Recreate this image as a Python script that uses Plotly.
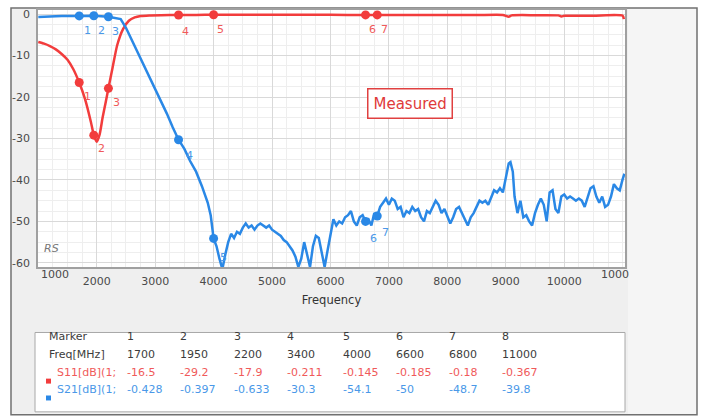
import plotly.graph_objects as go

# ---------------- data ----------------
s11_freq = [1000, 1100, 1200, 1300, 1400, 1500, 1600, 1700, 1800, 1900, 1950, 2000, 2050, 2100,
            2150, 2200, 2270, 2350, 2450, 2550, 2650, 2750, 2900, 3100, 3400, 3700, 4000, 4500,
            5000, 5500, 6000, 6600, 6800, 7200, 7600, 8000, 8500, 8950, 9050, 9100, 9500, 9900,
            9950, 10000, 10100, 10500, 11000, 11020]
s11_db = [-6.7, -7.1, -7.7, -8.5, -9.6, -11.0, -13.3, -16.5, -20.5, -26.0, -29.2, -30.8, -29.0, -25.0,
          -21.5, -17.9, -13.0, -7.5, -3.6, -1.6, -0.8, -0.45, -0.3, -0.25, -0.211, -0.18, -0.145, -0.15,
          -0.17, -0.16, -0.17, -0.185, -0.18, -0.2, -0.18, -0.2, -0.22, -0.2, -0.6, -0.3, -0.25, -0.3,
          -0.55, -0.4, -0.37, -0.37, -0.367, -1.2]

s21_freq = [1000, 1200, 1400, 1700, 1950, 2200, 2300, 2410, 2500, 2600, 2700, 2800, 2900, 3000,
            3100, 3200, 3300, 3400, 3500, 3600, 3700, 3800, 3900, 3950,
            4000, 4050, 4100, 4150, 4200, 4250, 4300, 4350, 4400, 4450, 4500, 4550, 4600, 4650,
            4700, 4750, 4800, 4850, 4900, 4950, 5000, 5050, 5100, 5150, 5200, 5250, 5300, 5350,
            5400, 5450, 5500, 5550, 5600, 5650, 5700, 5750, 5800, 5850, 5900, 5950, 6000, 6050,
            6100, 6150, 6200, 6250, 6300, 6350, 6400, 6450, 6500, 6550, 6600, 6650, 6700, 6750,
            6800, 6850, 6900, 6950, 7000, 7050, 7100, 7150, 7200, 7250, 7300, 7350, 7400, 7450,
            7500, 7550, 7600, 7650, 7700, 7750, 7800, 7850, 7900, 7950, 8000, 8050, 8100, 8150,
            8200, 8250, 8300, 8350, 8400, 8450, 8500, 8550, 8600, 8650, 8700, 8750, 8800, 8850,
            8900, 8950, 9000, 9050, 9080, 9120, 9150, 9200, 9250, 9300, 9350, 9400, 9450, 9500,
            9550, 9600, 9650, 9700, 9750, 9800, 9850, 9900, 9950, 10000, 10050, 10100, 10150,
            10200, 10250, 10300, 10350, 10400, 10450, 10500, 10550, 10600, 10650, 10700, 10750,
            10800, 10850, 10900, 10950, 11000, 11030]
s21_db = [-0.7, -0.5, -0.45, -0.428, -0.397, -0.633, -0.9, -1.2, -3.3, -6.2, -9.2, -12.0, -15.0, -18.0,
          -21.0, -24.0, -27.3, -30.3, -32.5, -35.5, -38.0, -41.5, -45.5, -48.5,
          -54.1, -56.0, -59.0, -61.5, -58.0, -55.0, -53.0, -54.0, -52.5, -53.0, -51.5, -50.5, -51.5, -51.0,
          -52.0, -51.0, -50.5, -51.0, -51.5, -51.0, -52.0, -52.5, -53.0, -53.5, -54.5, -55.0, -56.0, -57.0,
          -58.5, -61.0, -59.0, -55.0, -58.0, -61.0, -56.0, -53.5, -54.0, -58.0, -61.0, -57.0, -53.5, -49.5,
          -51.0, -50.0, -50.5, -49.0, -48.5, -47.5, -50.0, -51.0, -49.0, -48.5, -50.0, -49.5, -51.0, -48.0,
          -48.7, -46.5, -45.5, -44.5, -46.0, -44.5, -45.0, -47.0, -46.5, -49.0, -47.5, -48.0, -46.5, -47.5,
          -47.0, -49.0, -50.0, -47.5, -48.0, -46.5, -45.0, -46.0, -48.0, -47.0, -49.0, -50.5, -49.0, -47.0,
          -46.5, -48.0, -49.5, -51.0, -49.0, -48.0, -46.5, -45.0, -45.5, -45.0, -46.0, -44.0, -42.5, -43.0,
          -42.0, -43.0, -39.0, -36.0, -35.7, -38.0, -44.0, -48.0, -45.0, -49.0, -48.5, -50.0, -51.0, -48.0,
          -46.0, -44.5, -46.0, -50.0, -43.0, -42.5, -47.0, -48.0, -44.0, -43.5, -44.5, -44.0, -44.5,
          -45.0, -44.5, -45.0, -46.5, -44.0, -42.0, -41.5, -44.0, -45.5, -44.0, -46.5, -46.0,
          -44.0, -41.0, -42.0, -42.5, -39.8, -38.5]

marker_ids = ["1", "2", "3", "4", "5", "6", "7", "8"]
marker_freq = [1700, 1950, 2200, 3400, 4000, 6600, 6800, 11000]
marker_s11 = [-16.5, -29.2, -17.9, -0.211, -0.145, -0.185, -0.18, -0.367]
marker_s21 = [-0.428, -0.397, -0.633, -30.3, -54.1, -50, -48.7, -39.8]

x_tick_vals = [2000, 3000, 4000, 5000, 6000, 7000, 8000, 9000, 10000]
x_tick_text = ["2000", "3000", "4000", "5000", "6000", "7000", "8000", "9000", "10000"]
y_tick_vals = [0, -10, -20, -30, -40, -50, -60]
y_tick_text = ["0", "-10", "-20", "-30", "-40", "-50", "-60"]

# ---------------- style ----------------
RED = "#f23c3c"
BLUE = "#2a88e6"
RED_T = "#f05a5a"
BLUE_T = "#4a98e8"
FONT = "DejaVu Sans"
TICK = "#4a4a4a"

L, R, T, B = 38, 625, 8, 267
W, H = R - L, B - T


def px(x):
    return (x - L) / W


def py(y):
    return (B - y) / H


fig = go.Figure()

fig.add_trace(go.Scatter(x=s11_freq, y=s11_db, mode="lines",
                         line=dict(color=RED, width=2.5, shape="spline", smoothing=0.6),
                         showlegend=False, hoverinfo="skip"))
fig.add_trace(go.Scatter(x=s21_freq, y=s21_db, mode="lines",
                         line=dict(color=BLUE, width=2.5),
                         showlegend=False, hoverinfo="skip"))
fig.add_trace(go.Scatter(x=marker_freq[:7], y=marker_s11[:7], mode="markers",
                         marker=dict(color=RED, size=9), showlegend=False, hoverinfo="skip"))
fig.add_trace(go.Scatter(x=marker_freq[:7], y=marker_s21[:7], mode="markers",
                         marker=dict(color=BLUE, size=9), showlegend=False, hoverinfo="skip"))

annotations = []

# marker number labels
s11_offsets = [(8, -14), (8, -13), (8, -14), (7, -16), (7, -15), (7, -15), (7, -15)]
s21_offsets = [(8, -15), (8, -15), (7, -15), (11, -16), (10, -19), (8, -17), (8, -16)]
for i in range(7):
    annotations.append(dict(x=marker_freq[i], y=marker_s11[i], xref="x", yref="y",
                            text=marker_ids[i], showarrow=False,
                            xshift=s11_offsets[i][0], yshift=s11_offsets[i][1],
                            font=dict(family=FONT, size=11, color=RED_T)))
    annotations.append(dict(x=marker_freq[i], y=marker_s21[i], xref="x", yref="y",
                            text=marker_ids[i], showarrow=False,
                            xshift=s21_offsets[i][0], yshift=s21_offsets[i][1],
                            font=dict(family=FONT, size=11, color=BLUE_T)))

# edge tick labels (shifted as in the instrument screenshot)
annotations.append(dict(x=1000, y=py(283), xref="x", yref="paper", text="1000",
                        showarrow=False, xshift=17,
                        font=dict(family=FONT, size=11, color=TICK)))
annotations.append(dict(x=11000, y=py(283), xref="x", yref="paper", text="1000",
                        showarrow=False, xshift=-8,
                        font=dict(family=FONT, size=11, color=TICK)))

# Measured box
annotations.append(dict(x=px(410), y=py(87), xref="paper", yref="paper", text="Measured",
                        showarrow=False, bgcolor="white", bordercolor="#e04040", borderwidth=1.5,
                        borderpad=5, font=dict(family=FONT, size=15, color="#e03a3a")))

# RS label
annotations.append(dict(x=px(42), y=py(257), xref="paper", yref="paper", text="<i>RS</i>",
                        xanchor="left", showarrow=False,
                        font=dict(family=FONT, size=11, color="#777777")))

# table
col_x = [125, 178, 232, 285, 341, 394, 447, 500]
row_y = [346, 364, 382, 399]
HEAD = "#3c3c3c"
annotations.append(dict(x=px(47), y=py(row_y[0]), xref="paper", yref="paper", text="Marker",
                        xanchor="left", showarrow=False, font=dict(family=FONT, size=11, color=HEAD)))
annotations.append(dict(x=px(47), y=py(row_y[1]), xref="paper", yref="paper", text="Freq[MHz]",
                        xanchor="left", showarrow=False, font=dict(family=FONT, size=11, color=HEAD)))
annotations.append(dict(x=px(55), y=py(row_y[2]), xref="paper", yref="paper", text="S11[dB](1;",
                        xanchor="left", showarrow=False, font=dict(family=FONT, size=11, color=RED_T)))
annotations.append(dict(x=px(55), y=py(row_y[3]), xref="paper", yref="paper", text="S21[dB](1;",
                        xanchor="left", showarrow=False, font=dict(family=FONT, size=11, color=BLUE_T)))
for i in range(8):
    vals = [(marker_ids[i], HEAD), (str(marker_freq[i]), HEAD),
            (f"{marker_s11[i]:g}", RED_T), (f"{marker_s21[i]:g}", BLUE_T)]
    for r, (txt, col) in enumerate(vals):
        annotations.append(dict(x=px(col_x[i]), y=py(row_y[r]), xref="paper", yref="paper",
                                text=txt, xanchor="left", showarrow=False,
                                font=dict(family=FONT, size=11, color=col)))

shapes = [
    dict(type="rect", xref="paper", yref="paper", x0=px(11), x1=px(697), y0=py(416), y1=py(6),
         fillcolor="#f5f5f5", line=dict(color="#707070", width=1.5), layer="below"),
    dict(type="rect", xref="paper", yref="paper", x0=px(12), x1=px(628), y0=py(415), y1=py(7),
         fillcolor="#efefef", line=dict(width=0), layer="below"),
    dict(type="rect", xref="paper", yref="paper", x0=0, x1=1, y0=0, y1=1,
         fillcolor="white", line=dict(width=0), layer="below"),
    dict(type="rect", xref="paper", yref="paper", x0=px(35), x1=px(625), y0=py(413), y1=py(333),
         fillcolor="white", line=dict(color="#a8a8a8", width=1), layer="below"),
    dict(type="rect", xref="paper", yref="paper", x0=px(46), x1=px(51), y0=py(384.5), y1=py(379.5),
         fillcolor=RED, line=dict(width=0)),
    dict(type="rect", xref="paper", yref="paper", x0=px(46), x1=px(51), y0=py(401.5), y1=py(396.5),
         fillcolor=BLUE, line=dict(width=0)),
]

fig.update_layout(
    width=701, height=417,
    margin=dict(l=L, r=701 - R, t=T, b=417 - B),
    paper_bgcolor="white", plot_bgcolor="white",
    font=dict(family=FONT, size=11, color=TICK),
    annotations=annotations, shapes=shapes,
    xaxis=dict(range=[995, 11040], tickvals=x_tick_vals, ticktext=x_tick_text, ticks="",
               ticklabelstandoff=3,
               showgrid=True, gridcolor="#d9d9d9", gridwidth=1,
               minor=dict(dtick=250, showgrid=True, gridcolor="#eeeeee", gridwidth=1),
               showline=True, linecolor="#a0a0a0", linewidth=1.5, mirror=True, zeroline=False,
               tickfont=dict(family=FONT, size=11, color=TICK),
               title=dict(text="Frequency", standoff=9,
                          font=dict(family=FONT, size=11.5, color="#333333"))),
    yaxis=dict(range=[-61, 1.0], tickvals=y_tick_vals, ticktext=y_tick_text, ticks="",
               ticklabelstandoff=4,
               showgrid=True, gridcolor="#d9d9d9", gridwidth=1,
               minor=dict(dtick=2.5, showgrid=True, gridcolor="#eeeeee", gridwidth=1),
               showline=True, linecolor="#a0a0a0", linewidth=1.5, mirror=True, zeroline=False,
               tickfont=dict(family=FONT, size=11, color=TICK)),
)

fig.write_html("out.html", config={"displayModeBar": False},
               post_script="document.body.style.margin='0';document.body.style.padding='0';")
